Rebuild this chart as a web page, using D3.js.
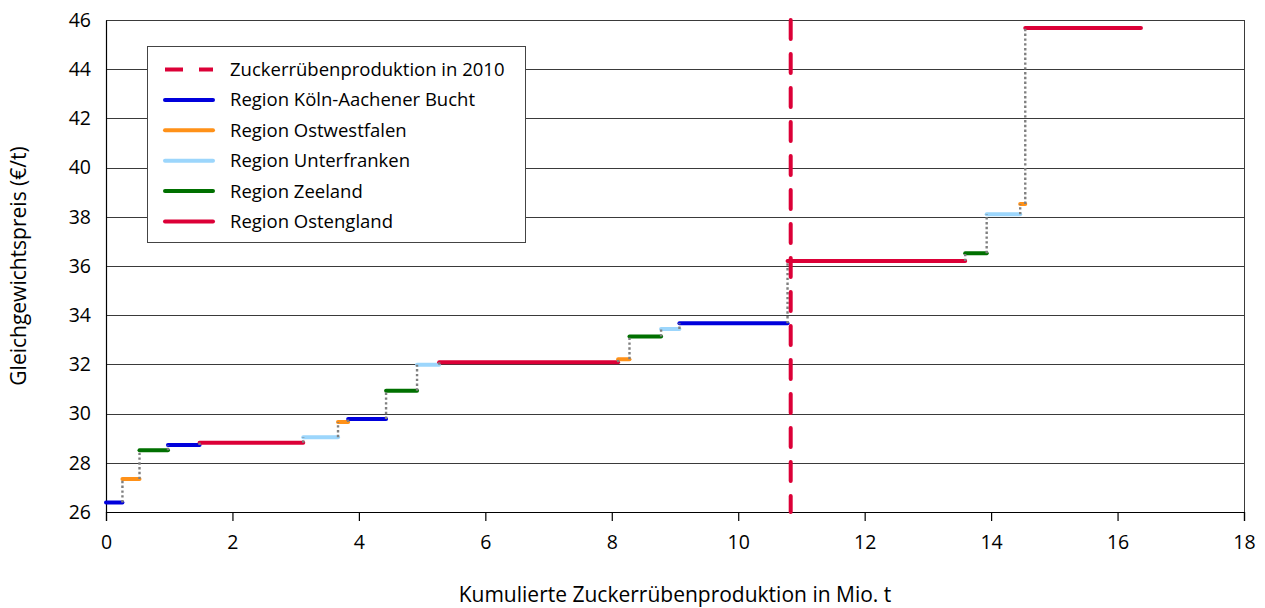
<!DOCTYPE html>
<html>
<head>
<meta charset="utf-8">
<script src="https://cdn.jsdelivr.net/npm/d3@7"></script>
<style>
    body { margin: 0; background: #fff; }
    text { font-family: "Open Sans", sans-serif; fill: #000; }
</style>
</head>
<body>
<div id="chart"></div>
<script>
// Angebotsstufen: Region, kumuliertes Ende (Mio. t), Preis (€/t)
const stepRegions = [
    "Köln-Aachener Bucht", "Ostwestfalen", "Zeeland", "Köln-Aachener Bucht", "Ostengland",
    "Unterfranken", "Ostwestfalen", "Köln-Aachener Bucht", "Zeeland", "Unterfranken",
    "Ostengland", "Ostwestfalen", "Zeeland", "Unterfranken", "Köln-Aachener Bucht",
    "Ostengland", "Zeeland", "Unterfranken", "Ostwestfalen", "Ostengland"
];
const stepEnds = [0.26, 0.53, 0.98, 1.48, 3.12, 3.67, 3.83, 4.43, 4.92, 5.27,
                  8.10, 8.28, 8.78, 9.07, 10.78, 13.59, 13.93, 14.46, 14.54, 16.37];
const stepPrices = [26.39, 27.34, 28.51, 28.72, 28.82, 29.04, 29.66, 29.78, 30.93, 31.99,
                    32.09, 32.21, 33.13, 33.44, 33.67, 36.20, 36.52, 38.10, 38.52, 45.67];

const production2010 = 10.83;

const regionNames = ["Köln-Aachener Bucht", "Ostwestfalen", "Unterfranken", "Zeeland", "Ostengland"];
const regionColors = ["#0000dc", "#ff9118", "#9cd6fc", "#007000", "#dc0037"];

const xTicks = [0, 2, 4, 6, 8, 10, 12, 14, 16, 18];
const yTicks = [26, 28, 30, 32, 34, 36, 38, 40, 42, 44, 46];

const margin = { top: 20, right: 21, bottom: 96, left: 106 };
const width = 1265 - margin.left - margin.right;
const height = 608 - margin.top - margin.bottom;

const svg = d3.select("#chart")
    .append("svg")
    .attr("width", 1265)
    .attr("height", 608)
    .append("g")
    .attr("transform", `translate(${margin.left},${margin.top})`);

const x = d3.scaleLinear().domain([0, 18]).range([0, width]);
const y = d3.scaleLinear().domain([26, 46]).range([height, 0]);
const color = d3.scaleOrdinal().domain(regionNames).range(regionColors);

// gridlines
svg.append("g")
    .selectAll("line")
    .data(yTicks)
    .enter()
    .append("line")
    .attr("x1", 0)
    .attr("x2", width)
    .attr("y1", d => Math.round(y(d)) + 0.5)
    .attr("y2", d => Math.round(y(d)) + 0.5)
    .attr("stroke", "#3a3a3a")
    .attr("stroke-width", 1);

// right border
svg.append("line")
    .attr("x1", width + 0.5).attr("x2", width + 0.5)
    .attr("y1", 0).attr("y2", height)
    .attr("stroke", "#3a3a3a");

// axes
const xAxis = svg.append("g")
    .attr("transform", `translate(0,${height})`)
    .call(d3.axisBottom(x).tickValues(xTicks).tickSize(9).tickPadding(14).tickFormat(d3.format("d")));
xAxis.selectAll("text").style("font-size", "19.5px");

const yAxis = svg.append("g")
    .call(d3.axisLeft(y).tickValues(yTicks).tickSize(0).tickPadding(15).tickFormat(d3.format("d")));
yAxis.selectAll("text").style("font-size", "19.5px");

svg.selectAll(".domain").attr("stroke", "#000").attr("stroke-width", 1.2);
svg.selectAll(".tick line").attr("stroke", "#000").attr("stroke-width", 1.2);

// steps
const steps = stepEnds.map((end, i) => ({
    start: i === 0 ? 0 : stepEnds[i - 1],
    end: end,
    price: stepPrices[i],
    region: stepRegions[i]
}));

svg.append("g")
    .selectAll("line")
    .data(steps)
    .enter()
    .append("line")
    .attr("x1", d => x(d.start))
    .attr("x2", d => x(d.end))
    .attr("y1", d => y(d.price))
    .attr("y2", d => y(d.price))
    .attr("stroke", d => color(d.region))
    .attr("stroke-width", 4)
    .attr("stroke-linecap", "round");

// dotted connectors
svg.append("g")
    .selectAll("line")
    .data(steps.slice(1))
    .enter()
    .append("line")
    .attr("x1", d => x(d.start))
    .attr("x2", d => x(d.start))
    .attr("y1", (d, i) => y(steps[i].price))
    .attr("y2", d => y(d.price))
    .attr("stroke", "#7f7f7f")
    .attr("stroke-width", 2.4)
    .attr("stroke-dasharray", "2.4,2.4");

// Produktion 2010
svg.append("line")
    .attr("x1", x(production2010))
    .attr("x2", x(production2010))
    .attr("y1", 0)
    .attr("y2", height)
    .attr("stroke", "#dc0037")
    .attr("stroke-width", 4)
    .attr("stroke-dasharray", "19,15")
    .attr("stroke-linecap", "round");

// axis titles
svg.append("text")
    .attr("x", width / 2)
    .attr("y", height + 90)
    .attr("text-anchor", "middle")
    .style("font-size", "21px")
    .text("Kumulierte Zuckerrübenproduktion in Mio. t");

svg.append("text")
    .attr("transform", `translate(${-80},${height / 2}) rotate(-90)`)
    .attr("text-anchor", "middle")
    .style("font-size", "21px")
    .text("Gleichgewichtspreis (€/t)");

// legend
const legend = svg.append("g")
    .attr("transform", `translate(${147 - margin.left},${46 - margin.top})`);

legend.append("rect")
    .attr("x", 0.5).attr("y", 0.5)
    .attr("width", 378).attr("height", 196)
    .attr("fill", "#fff")
    .attr("stroke", "#444");

const legendItems = [{ label: "Zuckerrübenproduktion in 2010", color: "#dc0037", dash: "18,16" }]
    .concat(regionNames.map(r => ({ label: "Region " + r, color: color(r), dash: null })));

const rows = legend.selectAll(".row")
    .data(legendItems)
    .enter()
    .append("g")
    .attr("class", "row")
    .attr("transform", (d, i) => `translate(0,${23.5 + i * 30.4})`);

rows.append("line")
    .attr("x1", 18).attr("x2", 66)
    .attr("y1", 0).attr("y2", 0)
    .attr("stroke", d => d.color)
    .attr("stroke-width", 4)
    .attr("stroke-dasharray", d => d.dash)
    .attr("stroke-linecap", d => d.dash ? "butt" : "round");

rows.append("text")
    .attr("x", 83)
    .attr("y", 6.5)
    .style("font-size", "18.5px")
    .text(d => d.label);
</script>
</body>
</html>
